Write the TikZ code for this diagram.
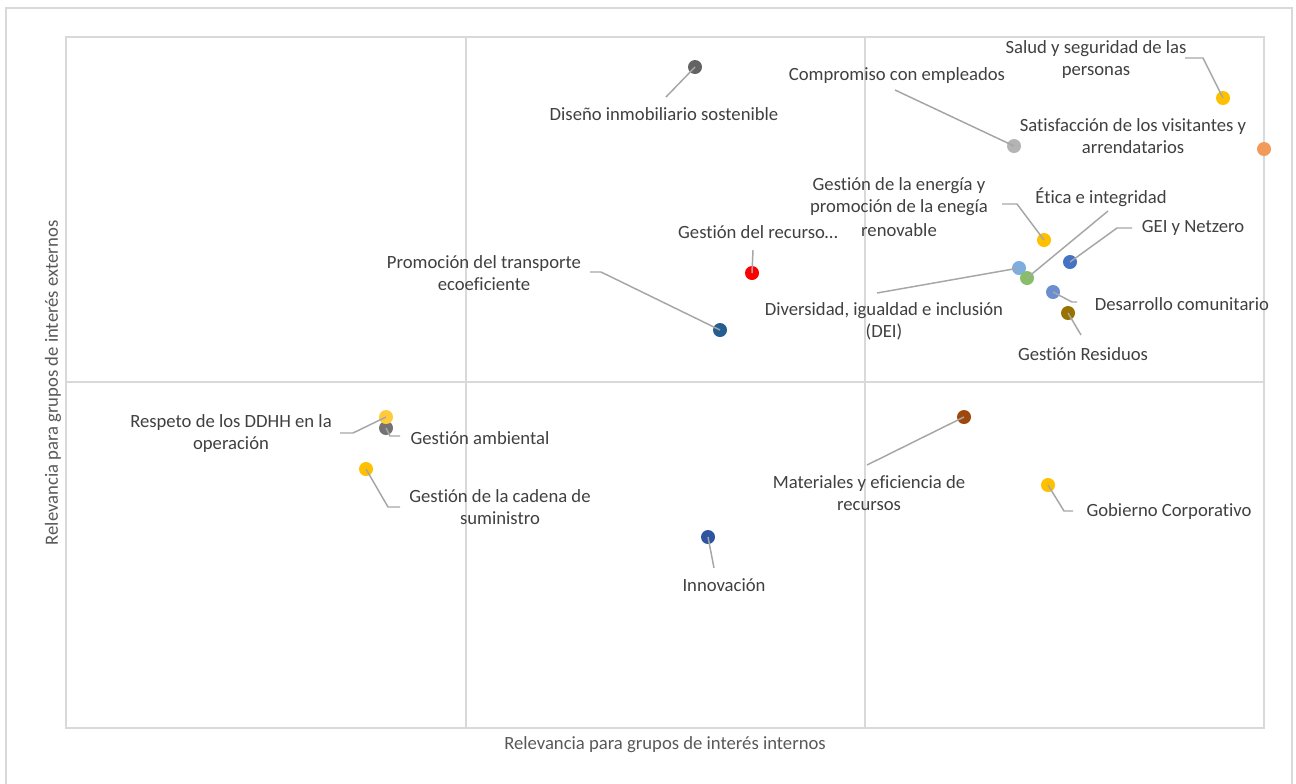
\documentclass[tikz,border=0pt]{standalone}
\usepackage{fontspec}
\setmainfont{Carlito}[Ligatures=NoCommon]
\definecolor{gridc}{HTML}{D9D9D9}
\definecolor{txt}{HTML}{404040}
\definecolor{axc}{HTML}{595959}
\definecolor{leadc}{HTML}{A6A6A6}
\definecolor{cDarkGray}{HTML}{636363}
\definecolor{cLightGray}{HTML}{B4B4B4}
\definecolor{cGold}{HTML}{FFC000}
\definecolor{cOrange}{HTML}{F29A5A}
\definecolor{cGreen}{HTML}{88BE6A}
\definecolor{cBlue}{HTML}{4472C4}
\definecolor{cSky}{HTML}{7DAEE0}
\definecolor{cSteel}{HTML}{6C8ED0}
\definecolor{cOlive}{HTML}{9A7200}
\definecolor{cRed}{HTML}{FF0000}
\definecolor{cNavy}{HTML}{255E91}
\definecolor{cMidGray}{HTML}{737373}
\definecolor{cPaleGold}{HTML}{FFCB3A}
\definecolor{cRoyal}{HTML}{2F55A0}
\definecolor{cRust}{HTML}{9E480E}
\begin{document}
\begin{tikzpicture}[x=0.75pt,y=-0.75pt,
  font=\fontsize{14}{16.5}\selectfont,
  frame/.style={draw=gridc,line width=1.1pt},
  grid/.style={draw=gridc,line width=1.1pt},
  dot/.style={circle,inner sep=0pt,minimum size=10.5pt,fill=#1,draw=none},
  lbl/.style={text=txt,align=center,inner sep=0pt},
  axis/.style={text=axc,inner sep=0pt},
  leader/.style={draw=leadc,line width=1.1pt}]
\useasboundingbox (0,0) rectangle (1296,783);
\fill[white] (0,0) rectangle (1296,783);
% outer chart frame (its bottom edge lies below the page)
\draw[frame] (6,800) -- (6,8) -- (1292,8) -- (1292,800);
% plot area and quadrant lines
\draw[grid] (466,37) -- (466,728);
\draw[grid] (865,37) -- (865,728);
\draw[grid] (66,382) -- (1264,382);
\draw[frame] (66,37) rectangle (1264,728);

% axis titles
\node[axis] (xt) at (665,745) {Relevancia para grupos de interés internos};
\node[axis,rotate=90] (yt) at (53,383) {Relevancia para grupos de interés externos};

% data points
\node[dot=cDarkGray] (p1) at (695,67) {};
\node[dot=cLightGray] (p2) at (1014,146) {};
\node[dot=cGold] (p3) at (1223,98) {};
\node[dot=cOrange] (p4) at (1264,149) {};
\node[dot=cGold] (p5) at (1044,240) {};
\node[dot=cSky] (p8) at (1019,268) {};
\node[dot=cGreen] (p6) at (1027,278) {};
\node[dot=cBlue] (p7) at (1070,262) {};
\node[dot=cSteel] (p9) at (1053,292) {};
\node[dot=cOlive] (p10) at (1068,313) {};
\node[dot=cRed] (p11) at (752,273) {};
\node[dot=cNavy] (p12) at (720,330) {};
\node[dot=cMidGray] (p14) at (386,428) {};
\node[dot=cPaleGold] (p13) at (386,417) {};
\node[dot=cGold] (p15) at (366,469) {};
\node[dot=cRoyal] (p16) at (708,537) {};
\node[dot=cRust] (p17) at (964,417) {};
\node[dot=cGold] (p18) at (1048,485) {};

% labels
\node[lbl] (l1) at (664,114) {Diseño inmobiliario sostenible};
\node[lbl] (l2) at (897,76) {Compromiso con empleados};
\node[lbl] (l3) at (1096,60) {Salud y seguridad de las\\personas};
\node[lbl] (l4) at (1133,136) {Satisfacción de los visitantes y\\arrendatarios};
\node[lbl] (l5) at (899,207) {Gestión de la energía y\\promoción de la enegía\\[2pt]renovable};
\node[lbl] (l6) at (1101,197) {Ética e integridad};
\node[lbl] (l7) at (1193,228) {GEI y Netzero};
\node[lbl] (l8) at (884,321) {Diversidad, igualdad e inclusión\\(DEI)};
\node[lbl] (l9) at (1182,304) {Desarrollo comunitario};
\node[lbl] (l10) at (1083,354) {Gestión Residuos};
\node[lbl] (l11) at (758,232) {Gestión del recurso…};
\node[lbl] (l12) at (484,273) {Promoción del transporte\\ecoeficiente};
\node[lbl] (l13) at (231,434) {Respeto de los DDHH en la\\operación};
\node[lbl] (l14) at (480,438) {Gestión ambiental};
\node[lbl] (l15) at (500,507) {Gestión de la cadena de\\suministro};
\node[lbl] (l16) at (724,585) {Innovación};
\node[lbl] (l17) at (869,493) {Materiales y eficiencia de\\recursos};
\node[lbl] (l18) at (1169,512) {Gobierno Corporativo};

% leader line end points and elbows
\coordinate (c1) at (666,97);
\coordinate (c2) at (895,90);
\coordinate (c3a) at (1185,58);
\coordinate (c3b) at (1203,58);
\coordinate (c5a) at (1002,204);
\coordinate (c5b) at (1017,204);
\coordinate (c6) at (1108,211);
\coordinate (c7a) at (1132,228);
\coordinate (c7b) at (1117,228);
\coordinate (c8) at (877,293);
\coordinate (c9a) at (1077,302);
\coordinate (c9b) at (1072,302);
\coordinate (c10) at (1081,335);
\coordinate (c11) at (753,250);
\coordinate (c12a) at (590,272);
\coordinate (c12b) at (601,272);
\coordinate (c13a) at (340,433);
\coordinate (c13b) at (353,433);
\coordinate (c14a) at (400,436);
\coordinate (c14b) at (390,436);
\coordinate (c15a) at (400,507);
\coordinate (c15b) at (388,507);
\coordinate (c16) at (714,568);
\coordinate (c17) at (867,465);
\coordinate (c18a) at (1073,511);
\coordinate (c18b) at (1064,511);

% leader lines
\draw[leader] (c1) -- (p1.center);
\draw[leader] (c2) -- (p2.center);
\draw[leader] (c3a) -- (c3b) -- (p3.center);
\draw[leader] (c5a) -- (c5b) -- (p5.center);
\draw[leader] (c6) -- (p6.center);
\draw[leader] (c7a) -- (c7b) -- (p7.center);
\draw[leader] (c8) -- (p8.center);
\draw[leader] (c9a) -- (c9b) -- (p9.center);
\draw[leader] (c10) -- (p10.center);
\draw[leader] (c11) -- (p11.center);
\draw[leader] (c12a) -- (c12b) -- (p12.center);
\draw[leader] (c13a) -- (c13b) -- (p13.center);
\draw[leader] (c14a) -- (c14b) -- (p14.center);
\draw[leader] (c15a) -- (c15b) -- (p15.center);
\draw[leader] (c16) -- (p16.center);
\draw[leader] (c17) -- (p17.center);
\draw[leader] (c18a) -- (c18b) -- (p18.center);
\end{tikzpicture}
\end{document}
